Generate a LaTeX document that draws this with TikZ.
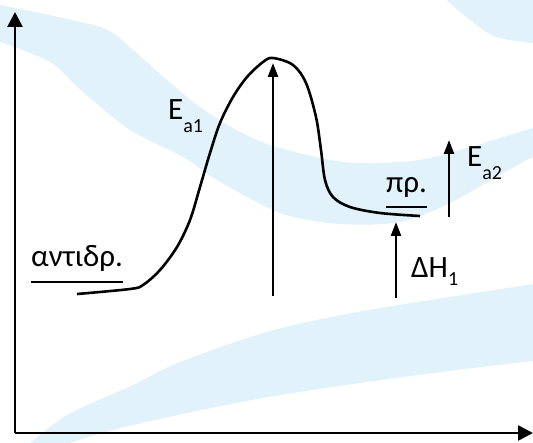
\documentclass[tikz,border=0pt]{standalone}
\usepackage{fontspec}
\setmainfont{Carlito}
\usepackage{tikz}
\usetikzlibrary{arrows.meta, calc}
\definecolor{BandBlue}{RGB}{225, 242, 250}

\newcommand{\lowsub}[2][13pt]{\raisebox{-#1}{\fontsize{20}{20}\selectfont #2}}

\tikzset{
    axis/.style={line width=2.6pt, -{Triangle[width=15pt, length=15pt]}},
    energy/.style={line width=2.4pt, -{Triangle[width=10pt, length=14pt]}},
    label/.style={inner sep=0pt, font=\fontsize{31}{36}\selectfont},
}

\begin{document}
\begin{tikzpicture}[x=1pt, y=1pt]
    \useasboundingbox (0,0) rectangle (533,442);
    \clip (0,0) rectangle (533,442);

    % φόντο
    \fill[BandBlue] plot[smooth] coordinates {(-5,438) (100,415) (133,392) (167,362) (200,335) (233,314) (270,297) (330,282) (370,279) (430,284) (533,314) (545,318)}
        -- plot[smooth] coordinates {(545,280) (533,285) (450,239) (400,220) (340,218) (280,229) (217,262) (183,285) (130,312) (83,350) (50,380) (-5,402)} -- cycle;
    \fill[BandBlue] plot[smooth] coordinates {(443,445) (470,422) (496,405) (540,398)} -- (540,445) -- cycle;
    \fill[BandBlue] plot[smooth] coordinates {(28,-3) (67,27) (133,57) (180,80) (270,111) (363,131) (533,158) (545,160)}
        -- plot[smooth] coordinates {(545,79) (533,81) (396,64) (263,44) (133,17) (63,-3)} -- cycle;

    % άξονες
    \coordinate (O) at (15,9);
    \coordinate (ytip) at (15,430);
    \coordinate (xtip) at (533,9);
    \draw[axis] (O) -- (ytip);
    \draw[axis] (O) -- (xtip);

    % καμπύλη ενέργειας
    \draw[line width=2.6pt] plot[smooth, tension=0.55] coordinates {(77,148) (130,153) (143,157) (160,172) (177,195) (190,222) (200,255) (210,289) (220,319) (233,345) (247,365) (263,380) (273,384) (293,377) (306,359) (316,325) (321,292) (325,262) (333,245) (350,235) (380,229) (420,226)};

    % βέλη
    \coordinate (ea1-base) at (273,146);
    \coordinate (peak) at (273,379);
    \coordinate (dh-base) at (396,144);
    \coordinate (dh-tip) at (396,220);
    \coordinate (ea2-base) at (449,225);
    \coordinate (ea2-tip) at (449,302);
    \draw[energy] (ea1-base) -- (peak);
    \draw[energy] (dh-base) -- (dh-tip);
    \draw[energy] (ea2-base) -- (ea2-tip);

    % ετικέτες
    \node[label, anchor=base west] (react) at (31,175) {αντιδρ.};
    \node[label, anchor=base west] (prod) at (386,249) {πρ.};
    \node[label, anchor=base west] (ea1) at (168,322) {E\lowsub{a1}};
    \node[label, anchor=base west] (ea2) at (467,275) {E\lowsub{a2}};
    \node[label, anchor=base west] (dh) at (411,164) {ΔH\lowsub[8pt]{1}};

    \draw[line width=1.3pt] ($(react.base west)+(0,-15)$) -- ($(react.base east)+(0,-15)$);
    \draw[line width=1.3pt] ($(prod.base west)+(0,-14)$) -- ($(prod.base east)+(0,-14)$);
\end{tikzpicture}
\end{document}
